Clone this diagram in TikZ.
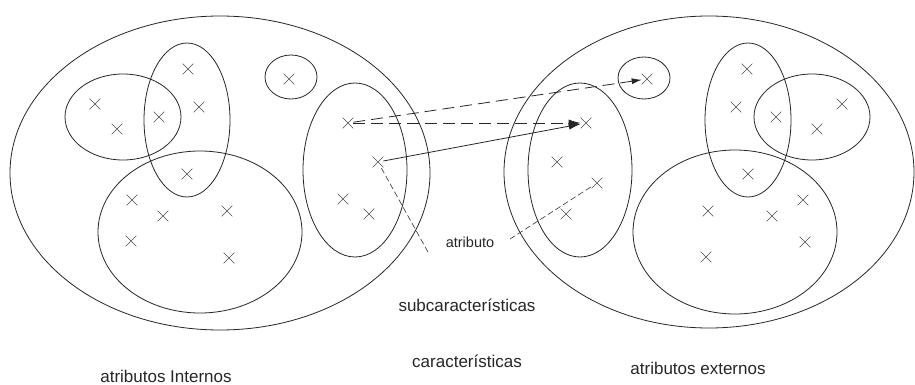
\documentclass[tikz,border=0pt]{standalone}
\usepackage{fontspec}
\setmainfont{Liberation Sans}
\usetikzlibrary{arrows.meta,shapes.misc}

\begin{document}
\begin{tikzpicture}[
  x=1pt, y=-1pt, >=Latex,
  attr/.style={cross out, draw=black!70, line width=0.6pt, inner sep=0pt, minimum size=10pt},
  group/.style={draw=black!85, line width=0.8pt},
  txt/.style={font=\fontsize{17}{20}\selectfont, text=black!85, inner sep=0pt},
  link/.style={draw=black!85, line width=0.8pt, -{Latex[length=12pt,width=7pt]}},
  dlink/.style={link, dash pattern=on 12pt off 6pt},
  hint/.style={draw=black!80, line width=0.6pt, dash pattern=on 6pt off 3pt}
]
  \useasboundingbox (0,0) rectangle (915,385);

  % INTERNAL ATTRIBUTES - left stage
  \draw[group] (220,173) ellipse [x radius=210pt, y radius=157pt];
  \draw[group] (123,117) ellipse [x radius=58pt, y radius=43pt];
  \draw[group] (187,120) ellipse [x radius=43pt, y radius=77pt];
  \draw[group] (200,232) ellipse [x radius=102pt, y radius=81pt];
  \draw[group] (291,77) ellipse [x radius=26pt, y radius=22pt];
  \draw[group] (355,170) ellipse [x radius=52pt, y radius=87pt];

  \foreach \p [count=\i] in {(95,104),(117,129),(159,117),(188,69),(199,107),(187,174),
      (132,200),(163,216),(227,211),(131,241),(229,258),(289,79),(343,199),(369,214)}
    \node[attr] (i\i) at \p {};
  \node[attr] (iA) at (348,123) {};
  \node[attr] (iB) at (378,162) {};

  % EXTERNAL ATTRIBUTES - right stage
  \draw[group] (709,172) ellipse [x radius=205pt, y radius=156pt];
  \draw[group] (644,78) ellipse [x radius=26pt, y radius=21pt];
  \draw[group] (580,170) ellipse [x radius=52pt, y radius=87pt];
  \draw[group] (748,120) ellipse [x radius=43pt, y radius=77pt];
  \draw[group] (812,117) ellipse [x radius=58pt, y radius=43pt];
  \draw[group] (735,232) ellipse [x radius=102pt, y radius=82pt];

  \foreach \p [count=\i] in {(557,162),(566,214),(747,69),(736,107),(776,117),(842,104),
      (817,129),(748,174),(708,211),(772,216),(803,200),(805,242),(706,257)}
    \node[attr] (e\i) at \p {};
  \node[attr] (eA) at (586,123) {};
  \node[attr] (eB) at (647,79) {};
  \node[attr] (eC) at (597,183) {};

  % Labels
  \node[txt, font=\fontsize{14.5}{17}\selectfont] (atr) at (470,242) {atributo};
  \node[txt] (subc) at (467,305) {subcaracterísticas};
  \node[txt] (car) at (467,361) {características};
  \node[txt] (aint) at (166,376) {atributos Internos};
  \node[txt] (aext) at (698,368) {atributos externos};

  \coordinate (atrL) at (428,252);
  \coordinate (atrR) at (510,239);

  % MAPPINGS
  \draw[dlink] (iA) -- (eA);
  \draw[dlink, -{Latex[length=10pt,width=6pt]}] (iA) -- (eB);
  \draw[link] (iB) -- (eA);

  % attribute pointers
  \draw[hint] (atrL) -- (iB);
  \draw[hint] (atrR) -- (eC);

\end{tikzpicture}
\end{document}
